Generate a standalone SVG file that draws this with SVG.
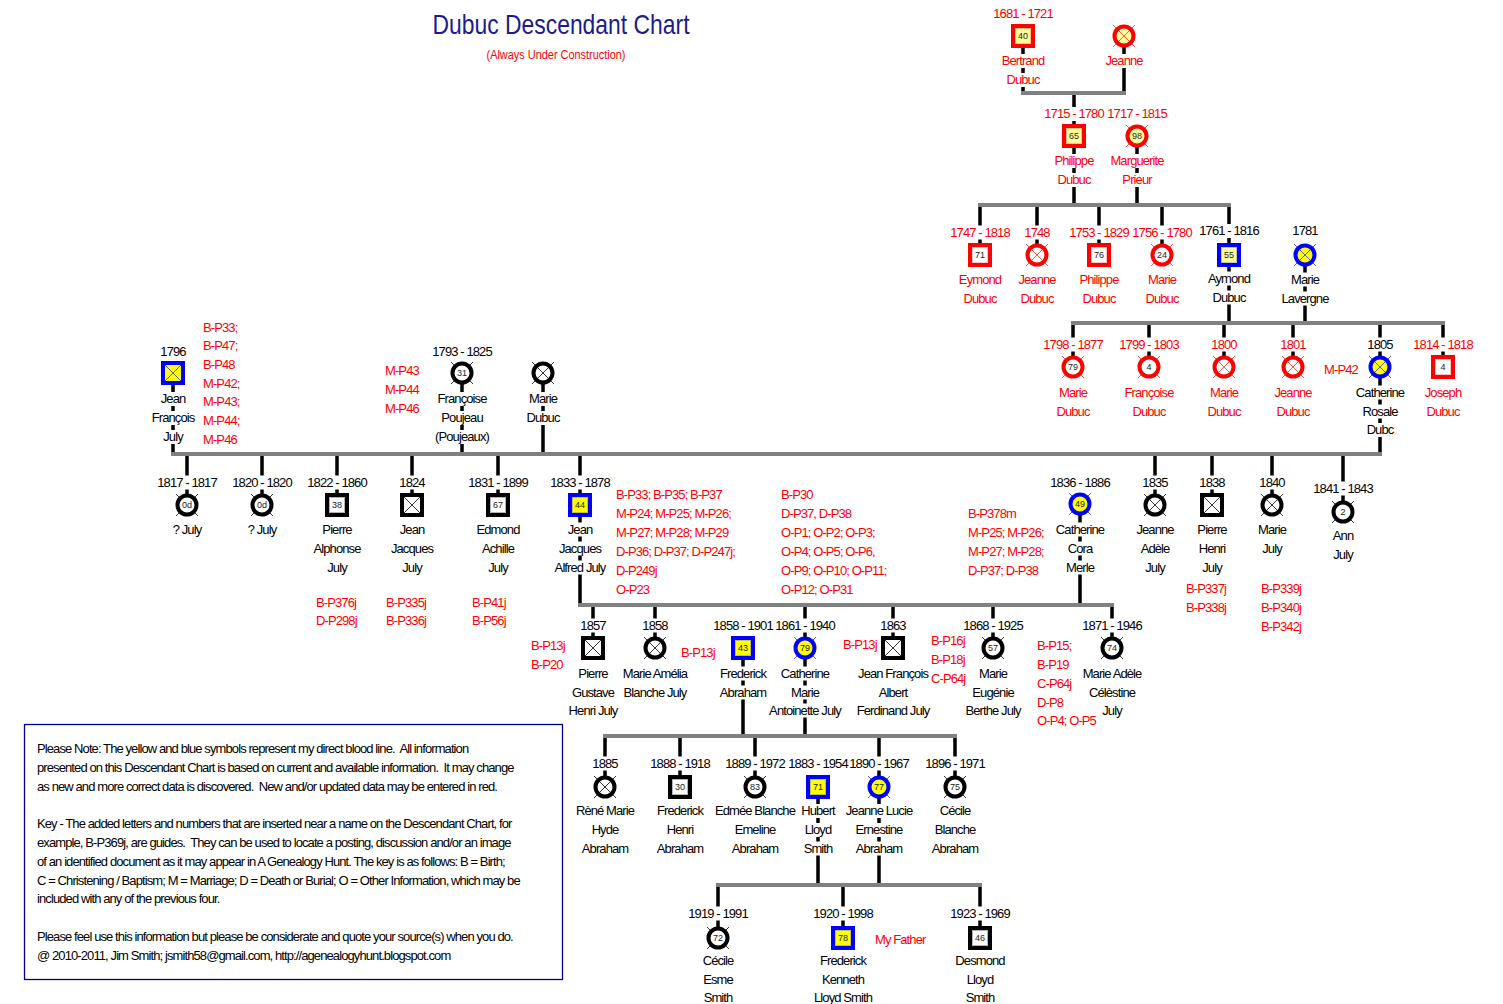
<svg xmlns="http://www.w3.org/2000/svg" width="1503" height="1004" viewBox="0 0 1503 1004">
<style>
text{font-family:"Liberation Sans",Arial,sans-serif}
.t{font-size:13px;letter-spacing:-0.9px;text-anchor:middle}
.a{font-size:13px;letter-spacing:-0.9px;text-anchor:start;fill:#ff0000}
.kt{font-size:13px;letter-spacing:-0.9px;fill:#000;white-space:pre}
.k{fill:#000}.r{fill:#ff0000}
.n{font-size:9px;text-anchor:middle;fill:#222}
.v{stroke:#000;stroke-width:3.5;fill:none}
.b{stroke:#808080;stroke-width:4;fill:none}
.m{fill:#fff}
.s{stroke-width:4}
.R{stroke:#ff0000}.B{stroke:#0000ff}.K{stroke:#000}
.fy{fill:#ffff00}.fp{fill:#ffff99}.fw{fill:#fff}
.x{fill:none;stroke-width:0.8}
.xr{stroke:#ff3030}.xb{stroke:#3030ff}.xk{stroke:#000}
.in{fill:none;stroke-width:0.6;stroke-dasharray:1 1}
</style>
<rect width="1503" height="1004" fill="#fff"/>
<g id="title">
<text x="561" y="34" font-size="28" fill="#1c1c8a" text-anchor="middle" textLength="257" lengthAdjust="spacingAndGlyphs">Dubuc Descendant Chart</text>
<text x="556" y="59" font-size="12" fill="#ff0000" text-anchor="middle" textLength="139" lengthAdjust="spacingAndGlyphs">(Always Under Construction)</text>
</g>
<g id="connectors">
<path class="v" d="M1023,36V93M1124,36V93M1074,93V205M1137,136V205M980,205V255M1037,205V255M1099,205V255M1162,205V255M1229,205V323M1305,255V323M1073,323V367M1149,323V367M1224,323V367M1293,323V367M1380,323V454M1443,323V367M173,373V454M462,373V454M543,373V454M187,454V505M262,454V505M337,454V505M412,454V505M498,454V505M580,454V605M1155,454V505M1212,454V505M1272,454V505M1343,454V512M1080,504V605M593,605V648M655,605V648M805,605V736M893,605V648M993,605V648M1112,605V648M743,648V736M605,736V787M680,736V787M755,736V787M879,736V885M955,736V787M818,787V885M718,885V938M843,885V938M980,885V938"/>
<path class="b" d="M1021,93H1126M978,205H1231M1071,323H1445M171,454H1382M578,605H1114M603,736H957M716,885H982"/>
</g>

<g id="n-bertrand" transform="translate(1023,0)">
<text class="t r" y="18">1681 - 1721</text>
<rect class="s R fp" x="-10" y="26" width="20" height="20"/><rect class="in xr" x="-7.5" y="28.5" width="15" height="15"/><text class="n" y="39">40</text>
<rect class="m" x="-4" y="54" width="8" height="14"/><text class="t r" y="65">Bertrand</text>
<rect class="m" x="-4" y="73" width="8" height="14"/><text class="t r" y="84">Dubuc</text>
</g>
<g id="n-jeanne1" transform="translate(1124,0)">
<path class="x xr" d="M-11,25L11,47M11,25L-11,47"/><circle class="s R fp" cy="36" r="9.5"/><path class="x xr" d="M-5.5,30.5L5.5,41.5M5.5,30.5L-5.5,41.5"/>
<rect class="m" x="-4" y="54" width="8" height="14"/><text class="t r" y="65">Jeanne</text>
</g>

<g id="n-philippe1" transform="translate(1074,0)">
<rect class="m" x="-4" y="107" width="8" height="14"/><text class="t r" y="118">1715 - 1780</text>
<rect class="s R fp" x="-10" y="126" width="20" height="20"/><rect class="in xr" x="-7.5" y="128.5" width="15" height="15"/><text class="n" y="139">65</text>
<rect class="m" x="-4" y="154" width="8" height="14"/><text class="t r" y="165">Philippe</text>
<rect class="m" x="-4" y="173" width="8" height="14"/><text class="t r" y="184">Dubuc</text>
</g>
<g id="n-marguerite" transform="translate(1137,0)">
<text class="t r" y="118">1717 - 1815</text>
<path class="x xr" d="M-11,125L11,147M11,125L-11,147"/><circle class="s R fp" cy="136" r="9.5"/><text class="n" y="139">98</text>
<rect class="m" x="-4" y="154" width="8" height="14"/><text class="t r" y="165">Marguerite</text>
<rect class="m" x="-4" y="173" width="8" height="14"/><text class="t r" y="184">Prieur</text>
</g>

<g id="n-eymond" transform="translate(980,0)">
<rect class="m" x="-4" y="225.5" width="8" height="14"/><text class="t r" y="236.5">1747 - 1818</text>
<rect class="s R fw" x="-10" y="245" width="20" height="20"/><rect class="in xr" x="-7.5" y="247.5" width="15" height="15"/><text class="n" y="258">71</text>
<text class="t r" y="283.5">Eymond</text><text class="t r" y="302.5">Dubuc</text>
</g>
<g id="n-jeanne2" transform="translate(1037,0)">
<rect class="m" x="-4" y="225.5" width="8" height="14"/><text class="t r" y="236.5">1748</text>
<path class="x xr" d="M-11,244L11,266M11,244L-11,266"/><circle class="s R fw" cy="255" r="9.5"/><path class="x xr" d="M-5.5,249.5L5.5,260.5M5.5,249.5L-5.5,260.5"/>
<text class="t r" y="283.5">Jeanne</text><text class="t r" y="302.5">Dubuc</text>
</g>
<g id="n-philippe2" transform="translate(1099,0)">
<rect class="m" x="-4" y="225.5" width="8" height="14"/><text class="t r" y="236.5">1753 - 1829</text>
<rect class="s R fw" x="-10" y="245" width="20" height="20"/><rect class="in xr" x="-7.5" y="247.5" width="15" height="15"/><text class="n" y="258">76</text>
<text class="t r" y="283.5">Philippe</text><text class="t r" y="302.5">Dubuc</text>
</g>
<g id="n-marie1" transform="translate(1162,0)">
<rect class="m" x="-4" y="225.5" width="8" height="14"/><text class="t r" y="236.5">1756 - 1780</text>
<path class="x xr" d="M-11,244L11,266M11,244L-11,266"/><circle class="s R fw" cy="255" r="9.5"/><text class="n" y="258">24</text>
<text class="t r" y="283.5">Marie</text><text class="t r" y="302.5">Dubuc</text>
</g>
<g id="n-aymond" transform="translate(1229,0)">
<rect class="m" x="-4" y="224" width="8" height="14"/><text class="t k" y="235">1761 - 1816</text>
<rect class="s B fp" x="-10" y="245" width="20" height="20"/><rect class="in xb" x="-7.5" y="247.5" width="15" height="15"/><text class="n" y="258">55</text>
<rect class="m" x="-4" y="271.5" width="8" height="14"/><text class="t k" y="282.5">Aymond</text>
<rect class="m" x="-4" y="290.5" width="8" height="14"/><text class="t k" y="301.5">Dubuc</text>
</g>
<g id="n-lavergne" transform="translate(1305,0)">
<text class="t k" y="235">1781</text>
<path class="x xb" d="M-11,244L11,266M11,244L-11,266"/><circle class="s B fy" cy="255" r="9.5"/><path class="x xb" d="M-5.5,249.5L5.5,260.5M5.5,249.5L-5.5,260.5"/>
<rect class="m" x="-4" y="272.5" width="8" height="14"/><text class="t k" y="283.5">Marie</text>
<rect class="m" x="-4" y="291.5" width="8" height="14"/><text class="t k" y="302.5">Lavergne</text>
</g>

<g id="n-marie2" transform="translate(1073,0)">
<rect class="m" x="-4" y="337.5" width="8" height="14"/><text class="t r" y="348.5">1798 - 1877</text>
<path class="x xr" d="M-11,356L11,378M11,356L-11,378"/><circle class="s R fw" cy="367" r="9.5"/><text class="n" y="370">79</text>
<text class="t r" y="396.5">Marie</text><text class="t r" y="415.5">Dubuc</text>
</g>
<g id="n-francoise1" transform="translate(1149,0)">
<rect class="m" x="-4" y="337.5" width="8" height="14"/><text class="t r" y="348.5">1799 - 1803</text>
<path class="x xr" d="M-11,356L11,378M11,356L-11,378"/><circle class="s R fw" cy="367" r="9.5"/><text class="n" y="370">4</text>
<text class="t r" y="396.5">Françoise</text><text class="t r" y="415.5">Dubuc</text>
</g>
<g id="n-marie3" transform="translate(1224,0)">
<rect class="m" x="-4" y="337.5" width="8" height="14"/><text class="t r" y="348.5">1800</text>
<path class="x xr" d="M-11,356L11,378M11,356L-11,378"/><circle class="s R fw" cy="367" r="9.5"/><path class="x xr" d="M-5.5,361.5L5.5,372.5M5.5,361.5L-5.5,372.5"/>
<text class="t r" y="396.5">Marie</text><text class="t r" y="415.5">Dubuc</text>
</g>
<g id="n-jeanne3" transform="translate(1293,0)">
<rect class="m" x="-4" y="337.5" width="8" height="14"/><text class="t r" y="348.5">1801</text>
<path class="x xr" d="M-11,356L11,378M11,356L-11,378"/><circle class="s R fw" cy="367" r="9.5"/><path class="x xr" d="M-5.5,361.5L5.5,372.5M5.5,361.5L-5.5,372.5"/>
<text class="t r" y="396.5">Jeanne</text><text class="t r" y="415.5">Dubuc</text>
</g>
<g id="n-catherine1" transform="translate(1380,0)">
<rect class="m" x="-4" y="337.5" width="8" height="14"/><text class="t k" y="348.5">1805</text>
<path class="x xb" d="M-11,356L11,378M11,356L-11,378"/><circle class="s B fy" cy="367" r="9.5"/><path class="x xb" d="M-5.5,361.5L5.5,372.5M5.5,361.5L-5.5,372.5"/>
<text class="t r" x="-39" y="373.5">M-P42</text>
<rect class="m" x="-4" y="385.5" width="8" height="14"/><text class="t k" y="396.5">Catherine</text>
<rect class="m" x="-4" y="404.5" width="8" height="14"/><text class="t k" y="415.5">Rosale</text>
<rect class="m" x="-4" y="423" width="8" height="14"/><text class="t k" y="434">Dubc</text>
</g>
<g id="n-joseph" transform="translate(1443,0)">
<rect class="m" x="-4" y="337.5" width="8" height="14"/><text class="t r" y="348.5">1814 - 1818</text>
<rect class="s R fw" x="-10" y="357" width="20" height="20"/><rect class="in xr" x="-7.5" y="359.5" width="15" height="15"/><text class="n" y="370">4</text>
<text class="t r" y="396.5">Joseph</text><text class="t r" y="415.5">Dubuc</text>
</g>

<g id="n-jeanfrancois" transform="translate(173,0)">
<text class="t k" y="355.5">1796</text>
<rect class="s B fy" x="-10" y="363" width="20" height="20"/><path class="x xb" d="M-8,365L8,381M8,365L-8,381"/>
<rect class="m" x="-4" y="392" width="8" height="14"/><text class="t k" y="403">Jean</text>
<rect class="m" x="-4" y="411" width="8" height="14"/><text class="t k" y="422">François</text>
<rect class="m" x="-4" y="430" width="8" height="14"/><text class="t k" y="441">July</text>
<text class="a" x="30" y="331.5">B-P33;</text><text class="a" x="30" y="349.5">B-P47;</text><text class="a" x="30" y="368.5">B-P48</text><text class="a" x="30" y="387.5">M-P42;</text><text class="a" x="30" y="406">M-P43;</text><text class="a" x="30" y="424.5">M-P44;</text><text class="a" x="30" y="443.5">M-P46</text>
</g>
<g id="n-francoise2" transform="translate(462,0)">
<text class="t k" y="355.5">1793 - 1825</text>
<path class="x xk" d="M-11,362L11,384M11,362L-11,384"/><circle class="s K fw" cy="373" r="9.5"/><text class="n" y="376">31</text>
<rect class="m" x="-4" y="392" width="8" height="14"/><text class="t k" y="403">Françoise</text>
<rect class="m" x="-4" y="411" width="8" height="14"/><text class="t k" y="422">Poujeau</text>
<rect class="m" x="-4" y="430" width="8" height="14"/><text class="t k" y="441">(Poujeaux)</text>
<text class="a" x="-77" y="374.5">M-P43</text><text class="a" x="-77" y="393.5">M-P44</text><text class="a" x="-77" y="412.5">M-P46</text>
</g>
<g id="n-marie4" transform="translate(543,0)">
<path class="x xk" d="M-11,362L11,384M11,362L-11,384"/><circle class="s K fw" cy="373" r="9.5"/><path class="x xk" d="M-5.5,367.5L5.5,378.5M5.5,367.5L-5.5,378.5"/>
<rect class="m" x="-4" y="392" width="8" height="14"/><text class="t k" y="403">Marie</text>
<rect class="m" x="-4" y="411" width="8" height="14"/><text class="t k" y="422">Dubuc</text>
</g>

<g id="n-july1817" transform="translate(187,0)">
<rect class="m" x="-4" y="475.5" width="8" height="14"/><text class="t k" y="486.5">1817 - 1817</text>
<path class="x xk" d="M-11,494L11,516M11,494L-11,516"/><circle class="s K fw" cy="505" r="9.5"/><text class="n" y="508">0d</text>
<text class="t k" y="533.5">? July</text>
</g>
<g id="n-july1820" transform="translate(262,0)">
<rect class="m" x="-4" y="475.5" width="8" height="14"/><text class="t k" y="486.5">1820 - 1820</text>
<path class="x xk" d="M-11,494L11,516M11,494L-11,516"/><circle class="s K fw" cy="505" r="9.5"/><text class="n" y="508">0d</text>
<text class="t k" y="533.5">? July</text>
</g>
<g id="n-pierre1" transform="translate(337,0)">
<rect class="m" x="-4" y="475.5" width="8" height="14"/><text class="t k" y="486.5">1822 - 1860</text>
<rect class="s K fw" x="-10" y="495" width="20" height="20"/><rect class="in xk" x="-7.5" y="497.5" width="15" height="15"/><text class="n" y="508">38</text>
<text class="t k" y="533.5">Pierre</text><text class="t k" y="552.5">Alphonse</text><text class="t k" y="571.5">July</text>
<text class="a" x="-21" y="606.5">B-P376j</text><text class="a" x="-21" y="624.5">D-P298j</text>
</g>
<g id="n-jean1" transform="translate(412,0)">
<rect class="m" x="-4" y="475.5" width="8" height="14"/><text class="t k" y="486.5">1824</text>
<rect class="s K fw" x="-10" y="495" width="20" height="20"/><path class="x xk" d="M-8,497L8,513M8,497L-8,513"/>
<text class="t k" y="533.5">Jean</text><text class="t k" y="552.5">Jacques</text><text class="t k" y="571.5">July</text>
<text class="a" x="-26" y="606.5">B-P335j</text><text class="a" x="-26" y="624.5">B-P336j</text>
</g>
<g id="n-edmond" transform="translate(498,0)">
<rect class="m" x="-4" y="475.5" width="8" height="14"/><text class="t k" y="486.5">1831 - 1899</text>
<rect class="s K fw" x="-10" y="495" width="20" height="20"/><rect class="in xk" x="-7.5" y="497.5" width="15" height="15"/><text class="n" y="508">67</text>
<text class="t k" y="533.5">Edmond</text><text class="t k" y="552.5">Achille</text><text class="t k" y="571.5">July</text>
<text class="a" x="-26" y="606.5">B-P41j</text><text class="a" x="-26" y="624.5">B-P56j</text>
</g>
<g id="n-jeanjacques" transform="translate(580,0)">
<rect class="m" x="-4" y="475.5" width="8" height="14"/><text class="t k" y="486.5">1833 - 1878</text>
<rect class="s B fy" x="-10" y="495" width="20" height="20"/><rect class="in xb" x="-7.5" y="497.5" width="15" height="15"/><text class="n" y="508">44</text>
<rect class="m" x="-4" y="522.5" width="8" height="14"/><text class="t k" y="533.5">Jean</text>
<rect class="m" x="-4" y="541.5" width="8" height="14"/><text class="t k" y="552.5">Jacques</text>
<rect class="m" x="-4" y="560.5" width="8" height="14"/><text class="t k" y="571.5">Alfred July</text>
<text class="a" x="36" y="498.5">B-P33; B-P35; B-P37</text><text class="a" x="36" y="517.5">M-P24; M-P25; M-P26;</text><text class="a" x="36" y="536.5">M-P27; M-P28; M-P29</text><text class="a" x="36" y="555.5">D-P36; D-P37; D-P247j;</text><text class="a" x="36" y="574.5">D-P249j</text><text class="a" x="36" y="593.5">O-P23</text>
<text class="a" x="201" y="498.5">B-P30</text><text class="a" x="201" y="517.5">D-P37, D-P38</text><text class="a" x="201" y="536.5">O-P1; O-P2; O-P3;</text><text class="a" x="201" y="555.5">O-P4; O-P5; O-P6,</text><text class="a" x="201" y="574.5">O-P9; O-P10; O-P11;</text><text class="a" x="201" y="593.5">O-P12; O-P31</text>
</g>
<g id="n-catherine2" transform="translate(1080,0)">
<text class="t k" y="486.5">1836 - 1886</text>
<path class="x xb" d="M-11,493L11,515M11,493L-11,515"/><circle class="s B fy" cy="504" r="9.5"/><text class="n" y="507">49</text>
<rect class="m" x="-4" y="522.5" width="8" height="14"/><text class="t k" y="533.5">Catherine</text>
<rect class="m" x="-4" y="541.5" width="8" height="14"/><text class="t k" y="552.5">Cora</text>
<rect class="m" x="-4" y="560.5" width="8" height="14"/><text class="t k" y="571.5">Merle</text>
<text class="a" x="-112" y="517.5">B-P378m</text><text class="a" x="-112" y="536.5">M-P25; M-P26;</text><text class="a" x="-112" y="555.5">M-P27; M-P28;</text><text class="a" x="-112" y="574.5">D-P37; D-P38</text>
</g>
<g id="n-jeanne4" transform="translate(1155,0)">
<rect class="m" x="-4" y="475.5" width="8" height="14"/><text class="t k" y="486.5">1835</text>
<path class="x xk" d="M-11,494L11,516M11,494L-11,516"/><circle class="s K fw" cy="505" r="9.5"/><path class="x xk" d="M-5.5,499.5L5.5,510.5M5.5,499.5L-5.5,510.5"/>
<text class="t k" y="533.5">Jeanne</text><text class="t k" y="552.5">Adèle</text><text class="t k" y="571.5">July</text>
</g>
<g id="n-pierre2" transform="translate(1212,0)">
<rect class="m" x="-4" y="475.5" width="8" height="14"/><text class="t k" y="486.5">1838</text>
<rect class="s K fw" x="-10" y="495" width="20" height="20"/><path class="x xk" d="M-8,497L8,513M8,497L-8,513"/>
<text class="t k" y="533.5">Pierre</text><text class="t k" y="552.5">Henri</text><text class="t k" y="571.5">July</text>
<text class="a" x="-26" y="592.5">B-P337j</text><text class="a" x="-26" y="611.5">B-P338j</text>
</g>
<g id="n-marie5" transform="translate(1272,0)">
<rect class="m" x="-4" y="475.5" width="8" height="14"/><text class="t k" y="486.5">1840</text>
<path class="x xk" d="M-11,494L11,516M11,494L-11,516"/><circle class="s K fw" cy="505" r="9.5"/><path class="x xk" d="M-5.5,499.5L5.5,510.5M5.5,499.5L-5.5,510.5"/>
<text class="t k" y="533.5">Marie</text><text class="t k" y="552.5">July</text>
<text class="a" x="-11" y="592.5">B-P339j</text><text class="a" x="-11" y="611.5">B-P340j</text><text class="a" x="-11" y="630.5">B-P342j</text>
</g>
<g id="n-ann" transform="translate(1343,0)">
<rect class="m" x="-4" y="481.5" width="8" height="14"/><text class="t k" y="492.5">1841 - 1843</text>
<path class="x xk" d="M-11,501L11,523M11,501L-11,523"/><circle class="s K fw" cy="512" r="9.5"/><text class="n" y="515">2</text>
<text class="t k" y="539.5">Ann</text><text class="t k" y="558.5">July</text>
</g>

<g id="n-pierre3" transform="translate(593,0)">
<rect class="m" x="-4" y="618.5" width="8" height="14"/><text class="t k" y="629.5">1857</text>
<rect class="s K fw" x="-10" y="638" width="20" height="20"/><path class="x xk" d="M-8,640L8,656M8,640L-8,656"/>
<text class="t k" y="677.5">Pierre</text><text class="t k" y="696.5">Gustave</text><text class="t k" y="714.5">Henri July</text>
<text class="a" x="-62" y="649.5">B-P13j</text><text class="a" x="-62" y="668.5">B-P20</text>
</g>
<g id="n-marieamelia" transform="translate(655,0)">
<rect class="m" x="-4" y="618.5" width="8" height="14"/><text class="t k" y="629.5">1858</text>
<path class="x xk" d="M-11,637L11,659M11,637L-11,659"/><circle class="s K fw" cy="648" r="9.5"/><path class="x xk" d="M-5.5,642.5L5.5,653.5M5.5,642.5L-5.5,653.5"/>
<text class="t k" y="677.5">Marie Amélia</text><text class="t k" y="696.5">Blanche July</text>
</g>
<g id="n-frederick1" transform="translate(743,0)">
<text class="t k" y="629.5">1858 - 1901</text>
<rect class="s B fy" x="-10" y="638" width="20" height="20"/><rect class="in xb" x="-7.5" y="640.5" width="15" height="15"/><text class="n" y="651">43</text>
<rect class="m" x="-4" y="666.5" width="8" height="14"/><text class="t k" y="677.5">Frederick</text>
<rect class="m" x="-4" y="685.5" width="8" height="14"/><text class="t k" y="696.5">Abraham</text>
<text class="a" x="-62" y="656.5">B-P13j</text>
</g>
<g id="n-catherine3" transform="translate(805,0)">
<rect class="m" x="-4" y="618.5" width="8" height="14"/><text class="t k" y="629.5">1861 - 1940</text>
<path class="x xb" d="M-11,637L11,659M11,637L-11,659"/><circle class="s B fy" cy="648" r="9.5"/><text class="n" y="651">79</text>
<rect class="m" x="-4" y="666.5" width="8" height="14"/><text class="t k" y="677.5">Catherine</text>
<rect class="m" x="-4" y="685.5" width="8" height="14"/><text class="t k" y="696.5">Marie</text>
<rect class="m" x="-4" y="703.5" width="8" height="14"/><text class="t k" y="714.5">Antoinette July</text>
</g>
<g id="n-jeanfrancois2" transform="translate(893,0)">
<rect class="m" x="-4" y="618.5" width="8" height="14"/><text class="t k" y="629.5">1863</text>
<rect class="s K fw" x="-10" y="638" width="20" height="20"/><path class="x xk" d="M-8,640L8,656M8,640L-8,656"/>
<text class="t k" y="677.5">Jean François</text><text class="t k" y="696.5">Albert</text><text class="t k" y="714.5">Ferdinand July</text>
<text class="a" x="-50" y="648.5">B-P13j</text>
</g>
<g id="n-marieeugenie" transform="translate(993,0)">
<rect class="m" x="-4" y="618.5" width="8" height="14"/><text class="t k" y="629.5">1868 - 1925</text>
<path class="x xk" d="M-11,637L11,659M11,637L-11,659"/><circle class="s K fw" cy="648" r="9.5"/><text class="n" y="651">57</text>
<text class="t k" y="677.5">Marie</text><text class="t k" y="696.5">Eugénie</text><text class="t k" y="714.5">Berthe July</text>
<text class="a" x="-62" y="644.5">B-P16j</text><text class="a" x="-62" y="663.5">B-P18j</text><text class="a" x="-62" y="682.5">C-P64j</text>
</g>
<g id="n-marieadele" transform="translate(1112,0)">
<rect class="m" x="-4" y="618.5" width="8" height="14"/><text class="t k" y="629.5">1871 - 1946</text>
<path class="x xk" d="M-11,637L11,659M11,637L-11,659"/><circle class="s K fw" cy="648" r="9.5"/><text class="n" y="651">74</text>
<text class="t k" y="677.5">Marie Adèle</text><text class="t k" y="696.5">Célèstine</text><text class="t k" y="714.5">July</text>
<text class="a" x="-75" y="649.5">B-P15;</text><text class="a" x="-75" y="668.5">B-P19</text><text class="a" x="-75" y="687.5">C-P64j</text><text class="a" x="-75" y="706.5">D-P8</text><text class="a" x="-75" y="724.5">O-P4; O-P5</text>
</g>

<g id="n-rene" transform="translate(605,0)">
<rect class="m" x="-4" y="756.5" width="8" height="14"/><text class="t k" y="767.5">1885</text>
<path class="x xk" d="M-11,776L11,798M11,776L-11,798"/><circle class="s K fw" cy="787" r="9.5"/><path class="x xk" d="M-5.5,781.5L5.5,792.5M5.5,781.5L-5.5,792.5"/>
<text class="t k" y="815">Rèné Marie</text><text class="t k" y="834">Hyde</text><text class="t k" y="852.5">Abraham</text>
</g>
<g id="n-frederick2" transform="translate(680,0)">
<rect class="m" x="-4" y="756.5" width="8" height="14"/><text class="t k" y="767.5">1888 - 1918</text>
<rect class="s K fw" x="-10" y="777" width="20" height="20"/><rect class="in xk" x="-7.5" y="779.5" width="15" height="15"/><text class="n" y="790">30</text>
<text class="t k" y="815">Frederick</text><text class="t k" y="834">Henri</text><text class="t k" y="852.5">Abraham</text>
</g>
<g id="n-edmee" transform="translate(755,0)">
<rect class="m" x="-4" y="756.5" width="8" height="14"/><text class="t k" y="767.5">1889 - 1972</text>
<path class="x xk" d="M-11,776L11,798M11,776L-11,798"/><circle class="s K fw" cy="787" r="9.5"/><text class="n" y="790">83</text>
<text class="t k" y="815">Edmée Blanche</text><text class="t k" y="834">Emeline</text><text class="t k" y="852.5">Abraham</text>
</g>
<g id="n-hubert" transform="translate(818,0)">
<text class="t k" y="767.5">1883 - 1954</text>
<rect class="s B fy" x="-10" y="777" width="20" height="20"/><rect class="in xb" x="-7.5" y="779.5" width="15" height="15"/><text class="n" y="790">71</text>
<rect class="m" x="-4" y="804" width="8" height="14"/><text class="t k" y="815">Hubert</text>
<rect class="m" x="-4" y="823" width="8" height="14"/><text class="t k" y="834">Lloyd</text>
<rect class="m" x="-4" y="841.5" width="8" height="14"/><text class="t k" y="852.5">Smith</text>
</g>
<g id="n-jeannelucie" transform="translate(879,0)">
<rect class="m" x="-4" y="756.5" width="8" height="14"/><text class="t k" y="767.5">1890 - 1967</text>
<path class="x xb" d="M-11,776L11,798M11,776L-11,798"/><circle class="s B fy" cy="787" r="9.5"/><text class="n" y="790">77</text>
<rect class="m" x="-4" y="804" width="8" height="14"/><text class="t k" y="815">Jeanne Lucie</text>
<rect class="m" x="-4" y="823" width="8" height="14"/><text class="t k" y="834">Ernestine</text>
<rect class="m" x="-4" y="841.5" width="8" height="14"/><text class="t k" y="852.5">Abraham</text>
</g>
<g id="n-cecile1" transform="translate(955,0)">
<rect class="m" x="-4" y="756.5" width="8" height="14"/><text class="t k" y="767.5">1896 - 1971</text>
<path class="x xk" d="M-11,776L11,798M11,776L-11,798"/><circle class="s K fw" cy="787" r="9.5"/><text class="n" y="790">75</text>
<text class="t k" y="815">Cécile</text><text class="t k" y="834">Blanche</text><text class="t k" y="852.5">Abraham</text>
</g>

<g id="n-cecile2" transform="translate(718,0)">
<rect class="m" x="-4" y="906.5" width="8" height="14"/><text class="t k" y="917.5">1919 - 1991</text>
<path class="x xk" d="M-11,927L11,949M11,927L-11,949"/><circle class="s K fw" cy="938" r="9.5"/><text class="n" y="941">72</text>
<text class="t k" y="965">Cécile</text><text class="t k" y="983.5">Esme</text><text class="t k" y="1002">Smith</text>
</g>
<g id="n-frederick3" transform="translate(843,0)">
<rect class="m" x="-4" y="906.5" width="8" height="14"/><text class="t k" y="917.5">1920 - 1998</text>
<rect class="s B fy" x="-10" y="928" width="20" height="20"/><rect class="in xb" x="-7.5" y="930.5" width="15" height="15"/><text class="n" y="941">78</text>
<text class="t k" y="965">Frederick</text><text class="t k" y="983.5">Kenneth</text><text class="t k" y="1002">Lloyd Smith</text>
<text class="a" x="32" y="943.5">My Father</text>
</g>
<g id="n-desmond" transform="translate(980,0)">
<rect class="m" x="-4" y="906.5" width="8" height="14"/><text class="t k" y="917.5">1923 - 1969</text>
<rect class="s K fw" x="-10" y="928" width="20" height="20"/><rect class="in xk" x="-7.5" y="930.5" width="15" height="15"/><text class="n" y="941">46</text>
<text class="t k" y="965">Desmond</text><text class="t k" y="983.5">Lloyd</text><text class="t k" y="1002">Smith</text>
</g>

<g id="key">
<rect x="24.5" y="724.5" width="538" height="255" fill="none" stroke="#00008b" stroke-width="1.3"/>
<text class="kt" x="37" y="752.5">Please Note: The yellow and blue symbols represent my direct blood line.  All information</text>
<text class="kt" x="37" y="772">presented on this Descendant Chart is based on current and available information.  It may change</text>
<text class="kt" x="37" y="790.5">as new and more correct data is discovered.  New and/or updated data may be entered in red.</text>
<text class="kt" x="37" y="828">Key - The added letters and numbers that are inserted near a name on the Descendant Chart, for</text>
<text class="kt" x="37" y="847">example, B-P369j, are guides.  They can be used to locate a posting, discussion and/or an image</text>
<text class="kt" x="37" y="865.5">of an identified document as it may appear in A Genealogy Hunt. The key is as follows: B = Birth;</text>
<text class="kt" x="37" y="884.5">C = Christening / Baptism; M = Marriage; D = Death or Burial; O = Other Information, which may be</text>
<text class="kt" x="37" y="903">included with any of the previous four.</text>
<text class="kt" x="37" y="940.5">Please feel use this information but please be considerate and quote your source(s) when you do.</text>
<text class="kt" x="37" y="959.5">@ 2010-2011, Jim Smith; jsmith58@gmail.com, http://agenealogyhunt.blogspot.com</text>
</g>
</svg>
